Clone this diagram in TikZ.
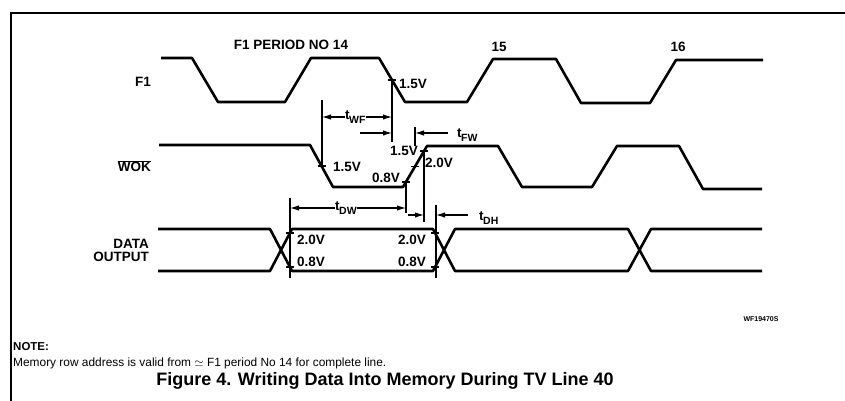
\documentclass[tikz,border=0pt]{standalone}
\usepackage{fontspec}
\setmainfont{Liberation Sans}
\usetikzlibrary{arrows.meta}
\newcommand\tsub[1]{t\kern-0.5pt\raisebox{-0.55ex}{\fontsize{10.5}{10}\selectfont #1}}
\begin{document}
\begin{tikzpicture}[x=1pt,y=-1pt,
  wave/.style={line width=2.6pt, line join=round},
  dim/.style={line width=1.2pt},
  arr/.style={dim,-{Latex[length=9pt,width=5.5pt]}},
  lbl/.style={font=\fontsize{13.5}{14}\selectfont\bfseries, inner sep=0pt},
  note/.style={font=\fontsize{11.9}{13}\selectfont, inner sep=0pt},
  ttl/.style={font=\fontsize{18}{19}\selectfont\bfseries, inner sep=0pt}]
\useasboundingbox (0,0) rectangle (845,401);
% frame
\draw[line width=1.5pt] (11,401) -- (11,13) -- (845,13);

% key points
\coordinate (f1x) at (392,80);
\coordinate (wfx) at (322,166);
\coordinate (w08) at (406,182);
\coordinate (w15) at (415,166.5);
\coordinate (w20) at (424,151);
\coordinate (d20a) at (290,233);
\coordinate (d08a) at (290,267);
\coordinate (d20b) at (435,233);
\coordinate (d08b) at (435,267);

% waveforms
\draw[wave] (161,58) -- (192,58) -- (218,102) -- (285,102) -- (311,58) -- (379,58) -- (405,102) -- (467,102) -- (493,59) -- (556,59) -- (581,103) -- (650,103) -- (676,60) -- (763,60);
\draw[wave] (159,145) -- (310,145) -- (333,187) -- (403,187) -- (427,146) -- (498,146) -- (522,187) -- (592,187) -- (617,146) -- (679,146) -- (703,189) -- (762,189);
\draw[wave] (158,229) -- (270,229) -- (292,271) -- (433,271) -- (455,229) -- (628,229) -- (651,271) -- (762,271);
\draw[wave] (158,271) -- (270,271) -- (292,229) -- (433,229) -- (455,271) -- (628,271) -- (651,229) -- (762,229);

% ticks
\foreach \p in {f1x,wfx,w08,w15,w20,d20a,d08a,d20b,d08b}
  \draw[dim] (\p) ++(-4,0) -- ++(8,0);

% signal names
\node[lbl, anchor=east] (nF1) at (151,82) {F1};
\node[lbl, anchor=east] (nWOK) at (151,166) {$\overline{\hbox{\bfseries WOK}}$};
\node[lbl, anchor=east, align=right] (nData) at (149,250) {DATA\\[-1pt]OUTPUT};
\node[lbl] (p14) at (291,45) {F1 PERIOD NO 14};
\node[lbl] (p15) at (499,47) {15};
\node[lbl] (p16) at (678,47) {16};

% level labels
\node[lbl, anchor=west] (v1) at (399,84) {1.5V};
\node[lbl, anchor=west] (v2) at (333,167) {1.5V};
\node[lbl, anchor=east] (v3) at (400,178) {0.8V};
\node[lbl, anchor=east] (v4) at (418,151) {1.5V};
\node[lbl, anchor=west] (v5) at (425,163) {2.0V};
\node[lbl, anchor=west] (v6) at (297,240) {2.0V};
\node[lbl, anchor=west] (v7) at (297,262) {0.8V};
\node[lbl, anchor=east] (v8) at (426,240) {2.0V};
\node[lbl, anchor=east] (v9) at (426,262) {0.8V};

% tWF
\coordinate (aWF) at (322,100);
\coordinate (bWF) at (392,142);
\draw[dim] (wfx) -- (aWF);
\draw[dim] (f1x) -- (bWF);
\node[lbl, anchor=west] (tWF) at (345,117) {\tsub{WF}};
\draw[arr] (tWF.west) -- (wfx |- tWF.west);
\draw[arr] (tWF.east) -- (f1x |- tWF.east);
% tFW
\coordinate (aFW) at (415,127);
\coordinate (bFW) at (415,146);
\draw[dim] (aFW) -- (bFW);
\coordinate (sFW1) at (360,133);
\coordinate (sFW2) at (448,133);
\draw[arr] (sFW1) -- (f1x |- sFW1);
\draw[arr] (sFW2) -- (aFW |- sFW2);
\node[lbl, anchor=west] (tFW) at (457,135) {\tsub{FW}};
% tDW
\coordinate (aDW) at (290,198);
\coordinate (bDW) at (290,278);
\coordinate (cDW) at (406,213);
\draw[dim] (aDW) -- (bDW);
\draw[dim] (w08) -- (cDW);
\node[lbl, anchor=west] (tDW) at (335,208) {\tsub{DW}};
\draw[arr] (tDW.west) -- (aDW |- tDW.west);
\draw[arr] (tDW.east) -- (w08 |- tDW.east);
% tDH
\coordinate (cDH) at (424,222);
\coordinate (aDH) at (436,205);
\coordinate (bDH) at (436,278);
\draw[dim] (w20) -- (cDH);
\draw[dim] (aDH) -- (bDH);
\coordinate (sDH1) at (408,215);
\coordinate (sDH2) at (468,215);
\draw[arr] (sDH1) -- (w20 |- sDH1);
\draw[arr] (sDH2) -- (aDH |- sDH2);
\node[lbl, anchor=west] (tDH) at (479,218) {\tsub{DH}};

% footer
\node[font=\fontsize{7}{8}\selectfont\bfseries, inner sep=0pt] (wf) at (761,319) {WF19470S};
\node[note, anchor=west, font=\fontsize{11.5}{12}\selectfont\bfseries] (nt) at (13,347) {NOTE:};
\node[note, anchor=west] (mem) at (13,363) {Memory row address is valid from $\simeq$ F1 period No 14 for complete line.};
\node[ttl] (title) at (385,381) {Figure 4. Writing Data Into Memory During TV Line 40};
\end{tikzpicture}
\end{document}
